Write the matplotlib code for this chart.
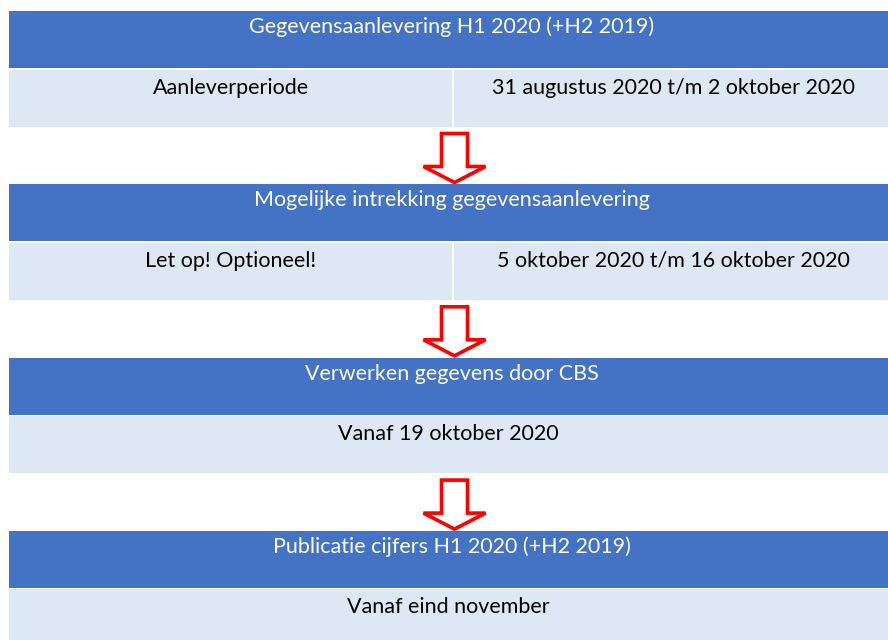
import matplotlib.pyplot as plt
from matplotlib.patches import Rectangle, Polygon

# Steps of the timeline
headers = [
    "Gegevensaanlevering H1 2020 (+H2 2019)",
    "Mogelijke intrekking gegevensaanlevering",
    "Verwerken gegevens door CBS",
    "Publicatie cijfers H1 2020 (+H2 2019)",
]
left_texts = ["Aanleverperiode", "Let op! Optioneel!", "Vanaf 19 oktober 2020", "Vanaf eind november"]
right_texts = ["31 augustus 2020 t/m 2 oktober 2020", "5 oktober 2020 t/m 16 oktober 2020", None, None]

blue = "#4472C4"
light = "#DDE8F4"
red = "#FF0000"

W, H = 888, 640
fig = plt.figure(figsize=(8.88, 6.4), dpi=100)
ax = fig.add_axes([0, 0, 1, 1])
ax.set_xlim(0, W)
ax.set_ylim(H, 0)
ax.axis("off")

font = "Lato"
fs = 15.5

x0, x1 = 9, 888
xmid = 453
step = 173.3
head_h = 57
band_h = 57

for i, title in enumerate(headers):
    top = 11 + i * step
    ax.add_patch(Rectangle((x0, top), x1 - x0, head_h, facecolor=blue, edgecolor="none"))
    btop = top + head_h + 1.5
    if right_texts[i] is None:
        ax.add_patch(Rectangle((x0, btop), x1 - x0, band_h, facecolor=light, edgecolor="none"))
        ax.text((x0 + x1) / 2, btop + 24, left_texts[i], ha="center", va="baseline",
                fontsize=fs, family=font, color="black")
    else:
        ax.add_patch(Rectangle((x0, btop), xmid - 1 - x0, band_h, facecolor=light, edgecolor="none"))
        ax.add_patch(Rectangle((xmid + 1, btop), x1 - xmid - 1, band_h, facecolor=light, edgecolor="none"))
        ax.text((x0 + xmid) / 2, btop + 24, left_texts[i], ha="center", va="baseline",
                fontsize=fs, family=font, color="black")
        ax.text((xmid + x1) / 2 + 3, btop + 24, right_texts[i], ha="center", va="baseline",
                fontsize=fs, family=font, color="black")
    ax.text((x0 + x1) / 2 + 3, top + 22, title, ha="center", va="baseline",
            fontsize=fs, family=font, color="white")

    # down arrow between the steps
    if i < len(headers) - 1:
        cx = 454.5
        a_top = btop + band_h + 7
        a_tip = a_top + 49
        head_y = a_top + 33
        sw, hw = 13, 31
        pts = [(cx - sw, a_top), (cx + sw, a_top), (cx + sw, head_y), (cx + hw, head_y),
               (cx, a_tip), (cx - hw, head_y), (cx - sw, head_y)]
        ax.add_patch(Polygon(pts, closed=True, facecolor="white", edgecolor=red,
                             linewidth=2.6, joinstyle="miter"))

fig.savefig("out.png", dpi=100)
